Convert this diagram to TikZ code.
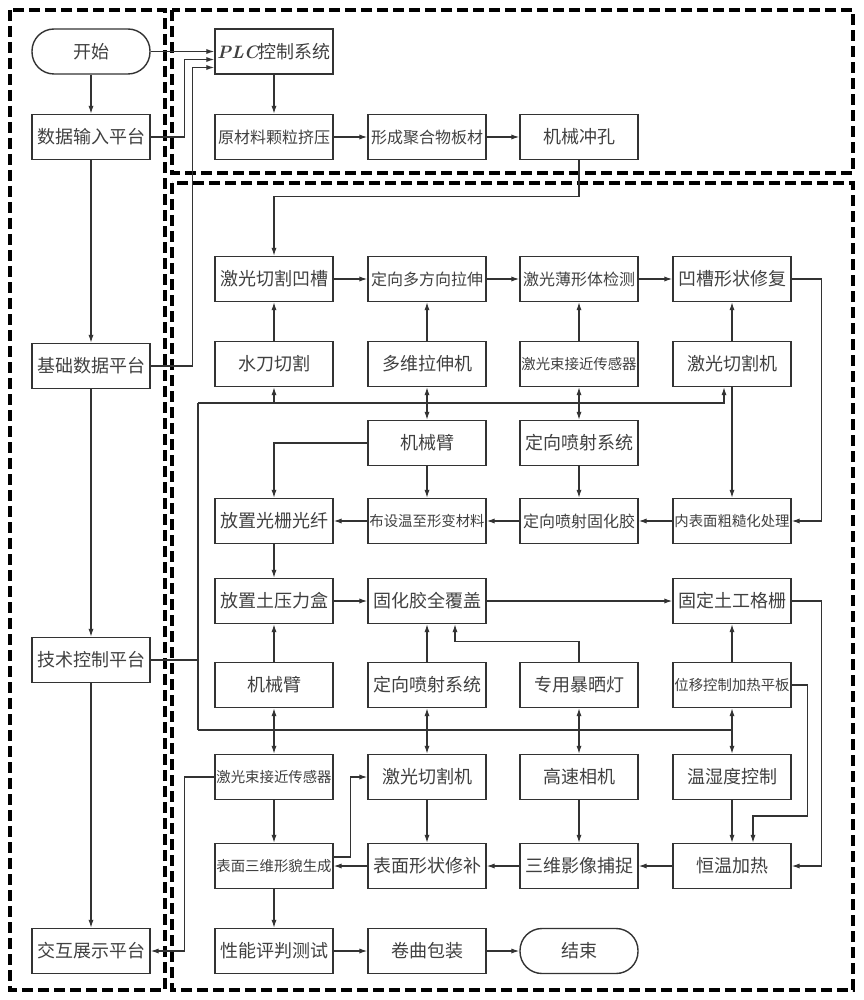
\documentclass[tikz,border=0pt]{standalone}
\usepackage{fontspec}
\newfontfamily\cjk{Noto Sans CJK SC}
\usetikzlibrary{arrows.meta,calc}
\tikzset{
  box/.style={draw=black!80,text=black!75,minimum width=59pt,minimum height=22.5pt,
    inner sep=0pt,line width=0.7pt,font=\cjk\fontsize{9}{9}\selectfont},
  boxS/.style={box,font=\cjk\fontsize{8}{8}\selectfont},
  boxXS/.style={box,font=\cjk\fontsize{7.2}{7.2}\selectfont},
  pill/.style={box,rounded corners=11pt},
  arr/.style={draw=black!80,line width=0.6pt,arrows={-Latex[length=4pt,width=2.6pt]}},
  dbl/.style={arr,arrows={Latex[length=4pt,width=2.6pt]-Latex[length=4pt,width=2.6pt]}},
  line/.style={draw=black!80,line width=0.6pt},
  group/.style={draw=black,line width=1.6pt,dash pattern=on 5.5pt off 2.5pt},
}
\begin{document}
\begin{tikzpicture}[x=0.5pt,y=-0.5pt]
\useasboundingbox (0,0) rectangle (863,1000);
\draw[group] (10,10) rectangle (165,990);
\draw[group] (172,10) rectangle (853,173);
\draw[group] (172,183) rectangle (853,990);
% left column
\node[pill] (start) at (91,51.5) {开始};
\node[box] (input) at (91,137) {数据输入平台};
\node[box] (basedata) at (91,366) {基础数据平台};
\node[box] (techctrl) at (91,660) {技术控制平台};
\node[box] (display) at (91,951) {交互展示平台};
% upper group
\node[box] (plc) at (274,51.5) {{\rmfamily\bfseries\itshape PLC}控制系统};
\node[boxS] (extrude) at (274,137) {原材料颗粒挤压};
\node[boxS] (sheet) at (427,137) {形成聚合物板材};
\node[box] (punch) at (579,137) {机械冲孔};
% lower group
\node[box] (groove) at (274,279) {激光切割凹槽};
\node[boxS] (stretch) at (427,279) {定向多方向拉伸};
\node[boxS] (detect) at (579,279) {激光薄形体检测};
\node[box] (repair) at (732,279) {凹槽形状修复};
\node[box] (waterjet) at (274,364) {水刀切割};
\node[box] (stretcher) at (427,364) {多维拉伸机};
\node[boxXS] (sensorA) at (579,364) {激光束接近传感器};
\node[box] (cutterA) at (732,364) {激光切割机};
\node[box] (armA) at (427,443) {机械臂};
\node[box] (sprayA) at (579,443) {定向喷射系统};
\node[box] (fiber) at (274,521) {放置光栅光纤};
\node[boxXS] (layout) at (427,521) {布设温至形变材料};
\node[boxS] (glue) at (579,521) {定向喷射固化胶};
\node[boxXS] (rough) at (732,521) {内表面粗糙化处理};
\node[box] (cell) at (274,601) {放置土压力盒};
\node[box] (cover) at (427,601) {固化胶全覆盖};
\node[box] (grid) at (732,601) {固定土工格栅};
\node[box] (armB) at (274,685) {机械臂};
\node[box] (sprayB) at (427,685) {定向喷射系统};
\node[box] (lamp) at (579,685) {专用暴晒灯};
\node[boxXS] (plate) at (732,685) {位移控制加热平板};
\node[boxXS] (sensorB) at (274,777) {激光束接近传感器};
\node[box] (cutterB) at (427,777) {激光切割机};
\node[box] (camera) at (579,777) {高速相机};
\node[box] (humid) at (732,777) {温湿度控制};
\node[boxXS] (surface) at (274,866) {表面三维形貌生成};
\node[box] (patch) at (427,866) {表面形状修补};
\node[box] (capture) at (579,866) {三维影像捕捉};
\node[box] (heat) at (732,866) {恒温加热};
\node[box] (test) at (274,951) {性能评判测试};
\node[box] (pack) at (427,951) {卷曲包装};
\node[pill] (finish) at (579,951) {结束};
\coordinate (busA) at (198,403);
\coordinate (busB) at (198,730);
% connectors
\draw[arr] (start) -- (input);
\draw[arr] (input) -- (basedata);
\draw[arr] (basedata) -- (techctrl);
\draw[arr] (techctrl) -- (display);
\draw[arr] (start.east) -- (plc.west);
\draw[arr] (input.east) -- ++(34,0) |- ($(plc.west)+(0,8)$);
\draw[arr] (basedata.east) -- ++(42,0) |- ($(plc.west)+(0,16)$);
\draw[arr] (plc) -- (extrude);
\draw[arr] (extrude) -- (sheet);
\draw[arr] (sheet) -- (punch);
\draw[arr] (punch.south) -- ++(0,36) -| (groove.north);
\draw[arr] (groove) -- (stretch);
\draw[arr] (stretch) -- (detect);
\draw[arr] (detect) -- (repair);
\draw[arr] (waterjet) -- (groove);
\draw[arr] (stretcher) -- (stretch);
\draw[arr] (sensorA) -- (detect);
\draw[arr] (cutterA) -- (repair);
\draw[arr] (repair.east) -- ++(30,0) |- (rough.east);
\draw[arr] (cutterA) -- (rough);
\draw[line] (techctrl.east) -- (techctrl.east -| busA);
\draw[line] (busB) -- (busA);
\draw[arr] (busA) -| ($(cutterA.south)+(-8,0)$);
\draw[arr] (busA -| waterjet) -- (waterjet);
\draw[line] (busB) -- (busB -| plate);
\draw[dbl] (stretcher) -- (armA);
\draw[dbl] (sensorA) -- (sprayA);
\draw[arr] (rough) -- (glue);
\draw[arr] (glue) -- (layout);
\draw[arr] (layout) -- (fiber);
\draw[arr] (armA) -- (layout);
\draw[arr] (armA.west) -| (fiber.north);
\draw[arr] (sprayA) -- (glue);
\draw[arr] (fiber) -- (cell);
\draw[arr] (cell) -- (cover);
\draw[arr] (cover) -- (grid);
\draw[arr] (armB) -- (cell);
\draw[arr] (sprayB) -- (cover);
\draw[arr] (lamp.north) -- ++(0,-20) -| ($(cover.south)+(28,0)$);
\draw[arr] (plate) -- (grid);
\draw[arr] (grid.east) -- ++(30,0) |- (heat.east);
\draw[arr] (plate.east) -- ++(16,0) -- ++(0,131) -| ($(heat.north)+(21,0)$);
\draw[dbl] (armB) -- (sensorB);
\draw[dbl] (sprayB) -- (cutterB);
\draw[dbl] (lamp) -- (camera);
\draw[dbl] (plate) -- (humid);
\draw[arr] (humid) -- (heat);
\draw[arr] (heat) -- (capture);
\draw[arr] (capture) -- (patch);
\draw[arr] (patch) -- (surface);
\draw[arr] (camera) -- (capture);
\draw[arr] (cutterB) -- (patch);
\draw[arr] (sensorB) -- (surface);
\draw[arr] ($(surface.east)+(0,-9)$) -- ++(17,0) |- (cutterB.west);
\draw[arr] (sensorB.west) -- ++(-30,0) |- (display.east);
\draw[arr] (surface) -- (test);
\draw[arr] (test) -- (pack);
\draw[arr] (pack) -- (finish);
\end{tikzpicture}
\end{document}
